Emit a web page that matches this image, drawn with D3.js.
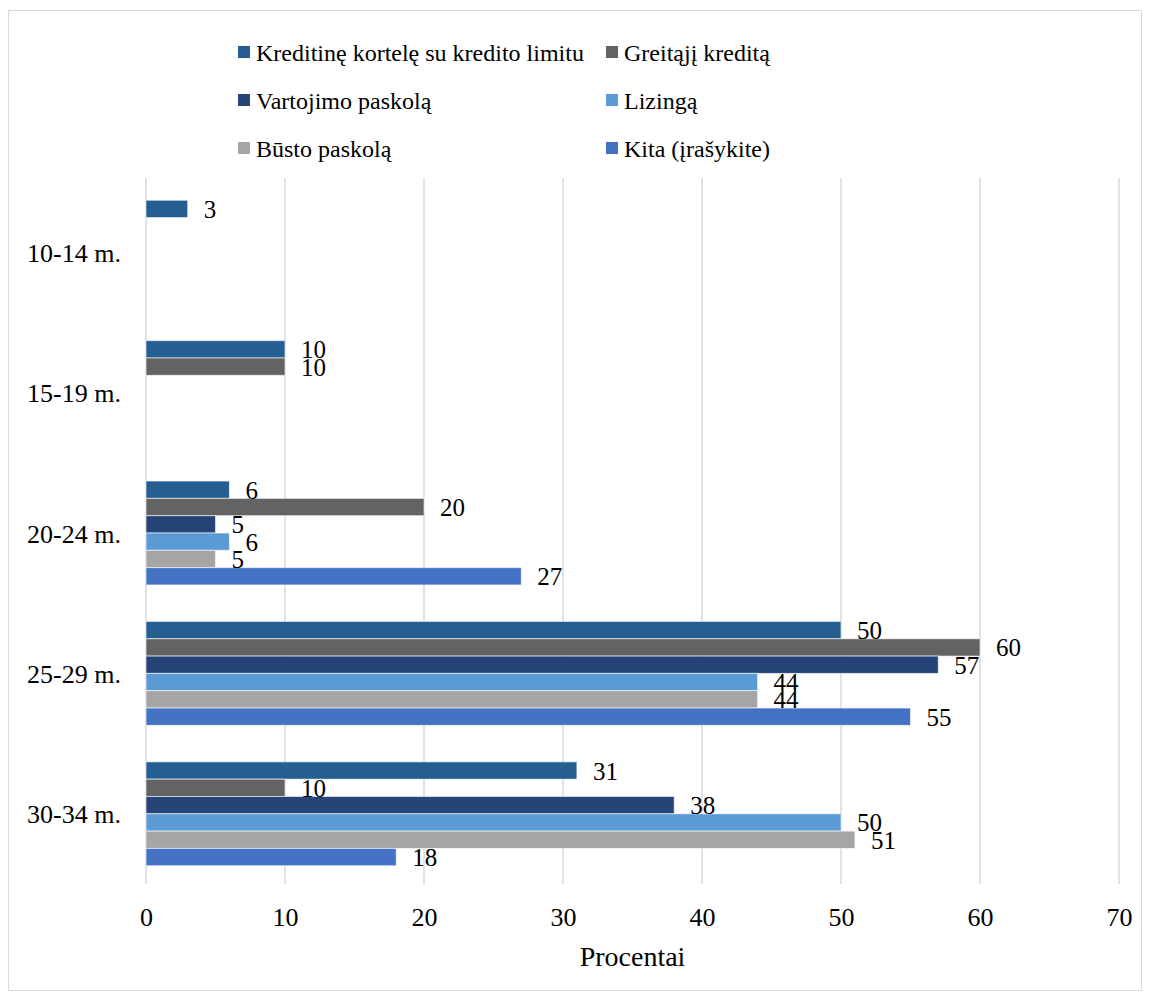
<!DOCTYPE html>
<html>
<head>
<meta charset="utf-8">
<script src="https://cdn.jsdelivr.net/npm/d3@7"></script>
<style>
  html, body { margin: 0; padding: 0; background: #fff; }
  svg { display: block; }
  svg text { font-family: "Liberation Serif", "Times New Roman", serif; }
</style>
</head>
<body>
<svg id="chart" width="1149" height="996"></svg>
<script>
// Age groups (rows) and credit types (series)
const categories = ["10-14 m.", "15-19 m.", "20-24 m.", "25-29 m.", "30-34 m."];
const seriesNames = [
  "Kreditinę kortelę su kredito limitu",
  "Greitąjį kreditą",
  "Vartojimo paskolą",
  "Lizingą",
  "Būsto paskolą",
  "Kita (įrašykite)"
];
const seriesColors = ["#255E91", "#636363", "#264478", "#5B9BD5", "#A5A5A5", "#4472C4"];

// Percent values per series, one entry per age group (null = no answer)
const kreditineKortele = [3, 10, 6, 50, 31];
const greitasisKreditas = [null, 10, 20, 60, 10];
const vartojimoPaskola = [null, null, 5, 57, 38];
const lizingas = [null, null, 6, 44, 50];
const bustoPaskola = [null, null, 5, 44, 51];
const kita = [null, null, 27, 55, 18];
const seriesValues = [kreditineKortele, greitasisKreditas, vartojimoPaskola, lizingas, bustoPaskola, kita];

const xTicks = [0, 10, 20, 30, 40, 50, 60, 70];
const xTitle = "Procentai";

const FONT = "'Liberation Serif', 'Times New Roman', serif";
const svg = d3.select("#chart");

// outer chart frame
svg.append("rect")
  .attr("x", 8.5).attr("y", 10.5)
  .attr("width", 1133).attr("height", 980)
  .attr("fill", "#fff").attr("stroke", "#d9d9d9").attr("stroke-width", 1);

const plot = { left: 146, right: 1119, top: 182, bottom: 884 };

const x = d3.scaleLinear().domain([0, 70]).range([plot.left, plot.right]);
const y = d3.scaleBand().domain(categories).range([plot.top, plot.bottom]).padding(0);

// bars of one group fill ~74% of each category band
const groupFill = 0.74;
const nS = seriesNames.length;
const outerPad = (nS / groupFill - nS) / 2;
const ySub = d3.scaleBand().domain(d3.range(nS))
  .range([0, y.bandwidth()]).paddingInner(0).paddingOuter(outerPad);

// vertical gridlines
svg.append("g").selectAll("line").data(xTicks).join("line")
  .attr("x1", d => x(d)).attr("x2", d => x(d))
  .attr("y1", plot.top - 4).attr("y2", plot.bottom)
  .attr("stroke", "#d9d9d9").attr("stroke-width", 1.5);

// x axis tick labels
const xAxis = d3.axisBottom(x).tickValues(xTicks).tickSize(0).tickPadding(0);
const gx = svg.append("g").attr("transform", `translate(0,${plot.bottom + 33})`).call(xAxis);
gx.attr("font-family", FONT);
gx.select(".domain").remove();
gx.selectAll("text")
  .attr("font-family", FONT)
  .attr("font-size", 26).attr("fill", "#000")
  .attr("y", 0).attr("dy", null).attr("dominant-baseline", "central");

svg.append("text")
  .attr("x", (plot.left + plot.right) / 2).attr("y", 956)
  .attr("text-anchor", "middle").attr("dominant-baseline", "central")
  .attr("font-family", FONT)
  .attr("font-size", 28).attr("fill", "#000").text(xTitle);

// category labels
svg.append("g").selectAll("text").data(categories).join("text")
  .attr("x", 121).attr("y", d => y(d) + y.bandwidth() / 2 + 1)
  .attr("text-anchor", "end").attr("dominant-baseline", "central")
  .attr("font-family", FONT)
  .attr("font-size", 26).attr("fill", "#000").text(d => d);

// bars and value labels
const flat = [];
categories.forEach((c, ci) => {
  seriesValues.forEach((vals, si) => {
    if (vals[ci] != null) flat.push({ cat: c, s: si, v: vals[ci] });
  });
});

svg.append("g").selectAll("rect").data(flat).join("rect")
  .attr("x", x(0))
  .attr("y", d => y(d.cat) + ySub(d.s))
  .attr("width", d => x(d.v) - x(0))
  .attr("height", ySub.bandwidth())
  .attr("fill", d => seriesColors[d.s])
  .attr("stroke", "#ffffff").attr("stroke-opacity", 0.6).attr("stroke-width", 1);

svg.append("g").selectAll("text").data(flat).join("text")
  .attr("x", d => x(d.v) + 16)
  .attr("y", d => y(d.cat) + ySub(d.s) + ySub.bandwidth() / 2 + 0.5)
  .attr("dominant-baseline", "central")
  .attr("font-family", FONT)
  .attr("font-size", 25).attr("fill", "#000")
  .text(d => d.v);

// legend, two columns
const legendCols = [238, 606];
const legendRows = [52, 100, 148];
const lg = svg.append("g");
seriesNames.forEach((name, i) => {
  const cx = legendCols[i % 2], cy = legendRows[Math.floor(i / 2)];
  lg.append("rect").attr("x", cx).attr("y", cy - 6).attr("width", 12).attr("height", 12)
    .attr("fill", seriesColors[i]);
  lg.append("text").attr("x", cx + 18).attr("y", cy + 1)
    .attr("dominant-baseline", "central")
    .attr("font-family", FONT)
    .attr("font-size", 24).attr("fill", "#000").text(name);
});
</script>
</body>
</html>
